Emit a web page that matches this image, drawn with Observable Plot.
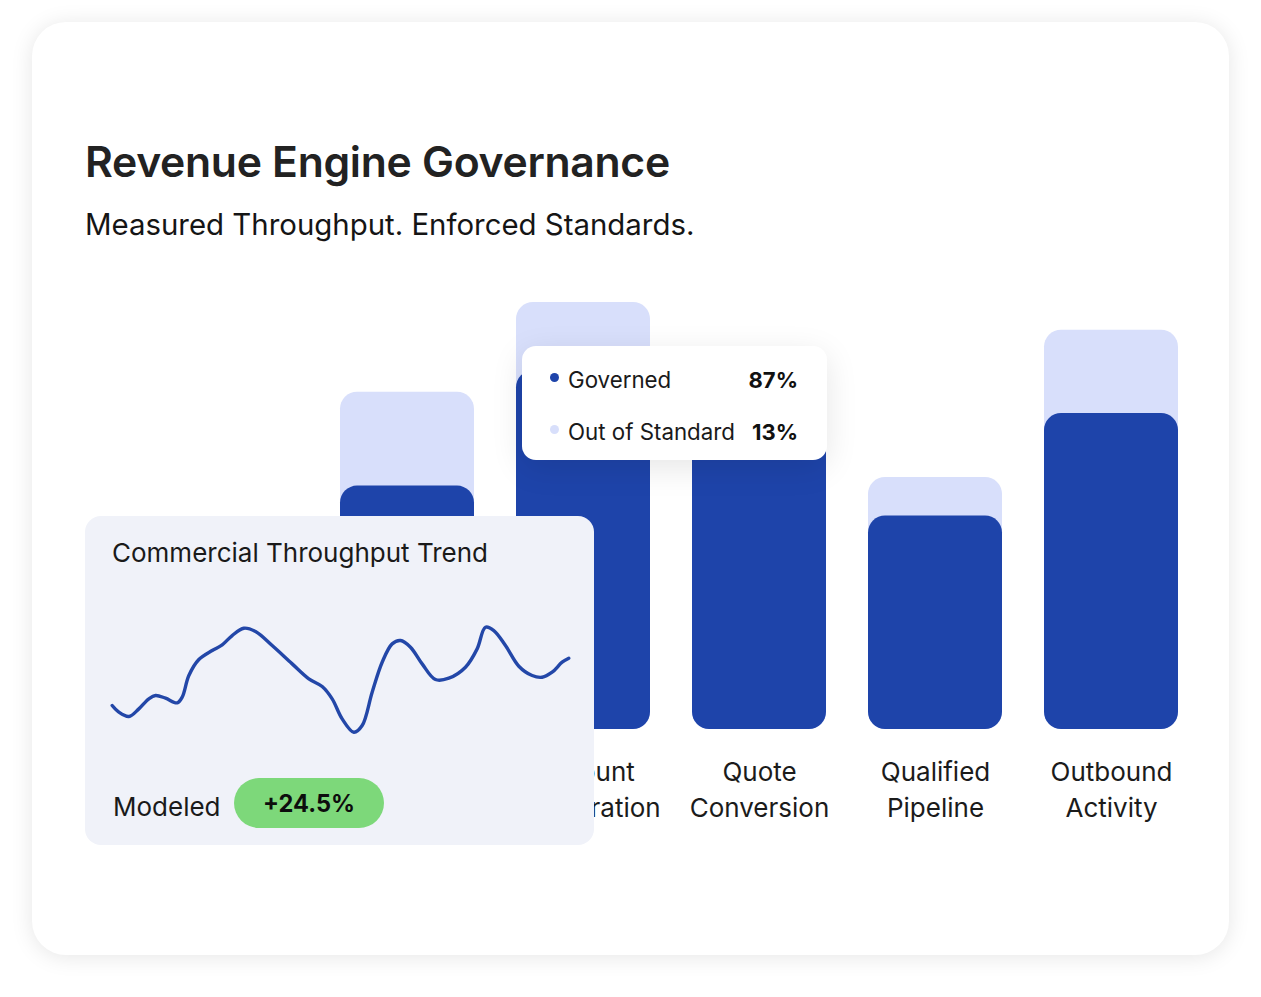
<!DOCTYPE html>
<html>
<head>
<meta charset="utf-8">
<script src="https://cdn.jsdelivr.net/npm/d3@7"></script>
<script src="https://cdn.jsdelivr.net/npm/@observablehq/plot@0.6"></script>
<style>
  html, body { margin: 0; padding: 0; background: #ffffff; }
  body { width: 1261px; height: 997px; position: relative; overflow: hidden; font-family: Inter, "Noto Sans", sans-serif; }
  #card { position: absolute; left: 32px; top: 22px; width: 1197px; height: 933px; border-radius: 34px; background: #fff; box-shadow: 0 2px 22px rgba(0,0,0,0.10); }
  .abs { position: absolute; white-space: nowrap; line-height: 1; }
  #title { left: 85px; top: 141px; font-size: 42.7px; font-weight: 600; color: #222; letter-spacing: -0.3px; }
  #subtitle { left: 85px; top: 209.5px; font-size: 29.4px; font-weight: 400; color: #151515; }
  #bars { position: absolute; left: 0; top: 0; z-index: 1; }
  #tooltip { position: absolute; left: 522px; top: 346px; width: 305px; height: 114px; background: #fff; border-radius: 14px; box-shadow: 0 8px 32px rgba(0,0,0,0.10); z-index: 3; }
  #tooltip .dot { position: absolute; width: 9px; height: 9px; border-radius: 50%; }
  #tooltip .lab { position: absolute; left: 46px; font-size: 22.3px; color: #1a1a1a; line-height: 1; }
  #tooltip .val { position: absolute; right: 29px; font-size: 22px; font-weight: 700; color: #111; line-height: 1; }
  #overlay { position: absolute; left: 85px; top: 516px; width: 509px; height: 329px; background: #f0f2f9; border-radius: 16px; z-index: 2; }
  #overlay .t { position: absolute; left: 27px; top: 24px; font-size: 26px; color: #1a1a1a; line-height: 1; white-space: nowrap; }
  #overlay .m { position: absolute; left: 28px; top: 278px; font-size: 26px; color: #1a1a1a; line-height: 1; }
  #pill { position: absolute; left: 149px; top: 262px; width: 150px; height: 50px; border-radius: 25px; background: #7dd87a; color: #0d0d0d; font-weight: 700; font-size: 23.6px; display: flex; align-items: center; justify-content: center; }
  #trend { position: absolute; left: 0; top: 0; }
</style>
</head>
<body>
<div id="card"></div>
<div id="title" class="abs">Revenue Engine Governance</div>
<div id="subtitle" class="abs">Measured Throughput. Enforced Standards.</div>
<div id="bars"></div>
<div id="tooltip"></div>
<div id="overlay"><div id="trend"></div><div class="t"></div><div class="m"></div><div id="pill"></div></div>
<script>
// ---- Bar chart data ----
const categories = ["Lead Routing", "Account Acceleration", "Quote Conversion", "Qualified Pipeline", "Outbound Activity"];
const categoryLabels = ["Lead\nRouting", "Account\nAcceleration", "Quote\nConversion", "Qualified\nPipeline", "Outbound\nActivity"];
const totalValues = [79, 100, 86, 59, 93.5];
const governedValues = [57, 84, 75, 50, 74];

// ---- Tooltip ----
const tooltipSeries = ["Governed", "Out of Standard"];
const tooltipValues = ["87%", "13%"];

// ---- Trend card ----
const trendTitle = "Commercial Throughput Trend";
const trendLabel = "Modeled";
const trendChange = "+24.5%";
const trendPeriod = [8, 10, 13, 16, 19, 21, 24, 27.5, 29, 31, 34, 38, 41, 44, 47.5, 51, 56, 62, 67, 71, 74, 77, 80.5, 83, 86, 89, 92, 94.5, 97.5, 101, 105, 109, 114, 117.5, 120, 122.5, 126, 130, 134, 137, 140, 143, 145];
const trendValue = [32.5, 27.5, 24.25, 30, 37.5, 40, 38, 34.5, 38.75, 55, 67, 73.75, 78, 85, 90.5, 88, 77.5, 63.75, 52.5, 46.75, 37.5, 22.5, 12.5, 17.5, 42.5, 65, 78.75, 81.25, 76.25, 63.75, 52, 53, 61.25, 75, 91.25, 88.75, 77.5, 62, 55, 53.75, 57.5, 65, 68];

const colorGoverned = "#1e44aa";
const colorOut = "#d8dffb";

const bars = categories.map((c, i) => ({category: c, label: categoryLabels[i], total: totalValues[i], governed: governedValues[i]}));

const barChart = Plot.plot({
  width: 1261,
  height: 860,
  marginLeft: 298,
  marginRight: 41,
  marginTop: 302,
  marginBottom: 131,
  style: {background: "transparent", fontFamily: "Inter, 'Noto Sans', sans-serif"},
  x: {domain: categories, padding: 0.2386, axis: null},
  y: {domain: [0, 100], axis: null},
  marks: [
    Plot.barY(bars, {x: "category", y: "total", fill: colorOut, rx: 17}),
    Plot.barY(bars, {x: "category", y: "governed", fill: colorGoverned, rx: 17}),
    Plot.text(bars, {x: "category", text: "label", frameAnchor: "bottom", lineAnchor: "top", dy: 26, fontSize: 26, lineHeight: 1.38, fill: "#1b1b1b"})
  ]
});
document.getElementById("bars").appendChild(barChart);

// tooltip
const tt = document.getElementById("tooltip");
const dotColors = [colorGoverned, colorOut];
tooltipSeries.forEach((s, i) => {
  const top = 23 + i * 52;
  const dot = document.createElement("div");
  dot.className = "dot";
  dot.style.left = "28px";
  dot.style.top = (top + 4) + "px";
  dot.style.background = dotColors[i];
  tt.appendChild(dot);
  const lab = document.createElement("div");
  lab.className = "lab"; lab.style.top = top + "px"; lab.textContent = s;
  tt.appendChild(lab);
  const val = document.createElement("div");
  val.className = "val"; val.style.top = top + "px"; val.textContent = tooltipValues[i];
  tt.appendChild(val);
});

// trend card
document.querySelector("#overlay .t").textContent = trendTitle;
document.querySelector("#overlay .m").textContent = trendLabel;
document.getElementById("pill").textContent = trendChange;
const trend = trendPeriod.map((p, i) => ({period: p, value: trendValue[i]}));
const trendChart = Plot.plot({
  width: 509,
  height: 329,
  margin: 0,
  style: {background: "transparent"},
  x: {domain: [8, 145], range: [26.7, 483.3], axis: null},
  y: {domain: [12.5, 91.25], range: [215.7, 110.7], axis: null},
  marks: [
    Plot.line(trend, {x: "period", y: "value", stroke: "#2347a8", strokeWidth: 3.4, curve: "catmull-rom", strokeLinecap: "round"})
  ]
});
document.getElementById("trend").appendChild(trendChart);
</script>
</body>
</html>
